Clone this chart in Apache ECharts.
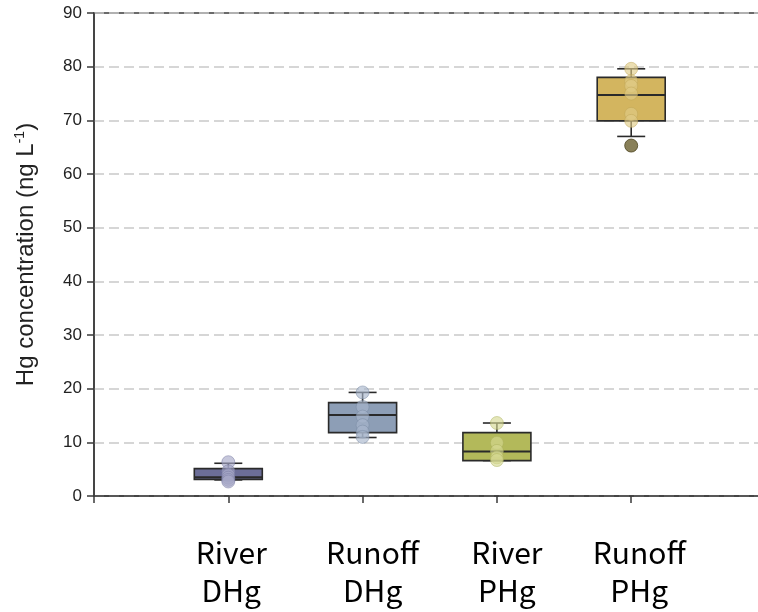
<!DOCTYPE html>
<html>
<head>
<meta charset="utf-8">
<script src="https://cdn.jsdelivr.net/npm/echarts@6/dist/echarts.min.js"></script>
<style>
  html, body { margin: 0; padding: 0; background: #fff; }
  #chart { width: 758px; height: 612px; }
</style>
</head>
<body>
<div id="chart"></div>
<script>
// Groups shown along the x axis (blank slots pad both ends of the axis)
const categories = ['', 'River\nDHg', 'Runoff\nDHg', 'River\nPHg', 'Runoff\nPHg', ''];

// Box summaries per group: [min whisker, Q1, median, Q3, max whisker] (ng L-1)
const riverDHgBox  = [3.0, 3.1, 3.5, 5.1, 6.1];
const runoffDHgBox = [10.9, 11.8, 15.1, 17.4, 19.3];
const riverPHgBox  = [6.6, 6.6, 8.3, 11.8, 13.6];
const runoffPHgBox = [67.0, 69.9, 74.7, 78.0, 79.6];

// Individual observations overlaid on each box (ng L-1)
const riverDHgPts  = [6.3, 4.6, 3.9, 3.4, 3.0, 2.7];
const runoffDHgPts = [19.3, 16.6, 14.8, 13.2, 12.0, 11.0];
const riverPHgPts  = [13.6, 9.9, 8.4, 7.2, 6.7];
const runoffPHgPts = [79.6, 77.3, 76.4, 75.0, 71.2, 69.9];
// Outlier below the lower whisker of Runoff PHg
const runoffPHgOutliers = [65.3];

// Y axis ticks
const yTicks = [0, 10, 20, 30, 40, 50, 60, 70, 80, 90];

// ---- styling ----
const boxFills  = ['#6c6e98', '#8d9eb6', '#b3b95a', '#d3b55f'];
const dotFills  = ['rgba(166,168,198,0.8)', 'rgba(168,182,204,0.8)', 'rgba(212,216,146,0.8)', 'rgba(224,204,134,0.8)'];
const dotEdges  = ['rgba(120,122,160,0.6)', 'rgba(120,136,160,0.6)', 'rgba(170,176,90,0.6)', 'rgba(190,165,85,0.6)'];
const labelShift = [0, 6, 20, 20, 16, 0]; // left padding nudging each label

const boxes = [riverDHgBox, runoffDHgBox, riverPHgBox, runoffPHgBox];
const points = [riverDHgPts, runoffDHgPts, riverPHgPts, runoffPHgPts];

const boxData = boxes.map((b, i) => [i + 1].concat(b));
const BOX_W = 68, CAP_W = 28;
const INK = '#2a2a2a';

function renderBox(params, api) {
  const x = api.value(0);
  const pMin = api.coord([x, api.value(1)]);
  const pQ1 = api.coord([x, api.value(2)]);
  const pMed = api.coord([x, api.value(3)]);
  const pQ3 = api.coord([x, api.value(4)]);
  const pMax = api.coord([x, api.value(5)]);
  const cx = pMed[0];
  const lineStyle = { stroke: INK, lineWidth: 1.6 };
  return {
    type: 'group',
    children: [
      { type: 'line', shape: { x1: cx, y1: pQ3[1], x2: cx, y2: pMax[1] }, style: lineStyle },
      { type: 'line', shape: { x1: cx, y1: pQ1[1], x2: cx, y2: pMin[1] }, style: lineStyle },
      { type: 'line', shape: { x1: cx - CAP_W / 2, y1: pMax[1], x2: cx + CAP_W / 2, y2: pMax[1] }, style: lineStyle },
      { type: 'line', shape: { x1: cx - CAP_W / 2, y1: pMin[1], x2: cx + CAP_W / 2, y2: pMin[1] }, style: lineStyle },
      { type: 'rect', shape: { x: cx - BOX_W / 2, y: pQ3[1], width: BOX_W, height: pQ1[1] - pQ3[1] },
        style: { fill: boxFills[params.dataIndex], stroke: INK, lineWidth: 1.6 } },
      { type: 'line', shape: { x1: cx - BOX_W / 2, y1: pMed[1], x2: cx + BOX_W / 2, y2: pMed[1] },
        style: { stroke: INK, lineWidth: 2 } }
    ]
  };
}

const scatterSeries = points.map((arr, i) => ({
  type: 'scatter',
  data: arr.map(v => [i + 1, v]),
  symbol: 'circle',
  symbolSize: 13,
  itemStyle: { color: dotFills[i], borderColor: dotEdges[i], borderWidth: 1 },
  z: 5
}));

const richStyles = {};
labelShift.forEach((p, i) => {
  richStyles['c' + i] = {
    fontFamily: '"Noto Sans CJK SC", "Noto Sans", sans-serif',
    fontSize: 30, lineHeight: 38, color: '#000', padding: [0, 0, 0, p]
  };
});

const chart = echarts.init(document.getElementById('chart'), null, { renderer: 'canvas' });
chart.setOption({
  animation: false,
  backgroundColor: '#fff',
  grid: {
    left: 94, top: 13, right: -7.5, bottom: 116,
    outerBoundsMode: 'none', containLabel: false,
    show: true, borderColor: '#3a3a3a', borderWidth: 1.5, backgroundColor: 'transparent'
  },
  xAxis: {
    type: 'category',
    data: categories,
    boundaryGap: false,
    axisLine: { lineStyle: { color: '#3a3a3a', width: 1.5 } },
    axisTick: { show: true, length: 7, interval: 0, lineStyle: { color: '#3a3a3a', width: 1.5 } },
    axisLabel: {
      interval: 0, margin: 38,
      formatter: (v, i) => v.split('\n').map(s => '{c' + i + '|' + s + '}').join('\n'),
      rich: richStyles
    },
    splitLine: { show: false }
  },
  yAxis: {
    type: 'value',
    min: yTicks[0], max: yTicks[yTicks.length - 1], interval: 10,
    name: '{t|Hg concentration (ng L}{s|-1}{t|)}',
    nameLocation: 'middle', nameGap: 55, nameRotate: 90,
    nameTextStyle: {
      rich: {
        t: { fontFamily: '"Liberation Sans", Arial, sans-serif', fontSize: 24, color: '#222' },
        s: { fontFamily: '"Liberation Sans", Arial, sans-serif', fontSize: 14, color: '#222', padding: [0, 0, 12, 0] }
      }
    },
    axisLine: { show: true, lineStyle: { color: '#3a3a3a', width: 1.5 } },
    axisTick: { show: true, length: 7, lineStyle: { color: '#3a3a3a', width: 1.5 } },
    axisLabel: { margin: 12, fontFamily: '"Liberation Sans", Arial, sans-serif', fontSize: 17, color: '#222' },
    splitLine: { show: true, lineStyle: { color: '#c9c9c9', width: 1.5, type: [10, 5] } }
  },
  series: [
    { type: 'custom', renderItem: renderBox, data: boxData, z: 3 },
    ...scatterSeries,
    {
      type: 'scatter',
      data: runoffPHgOutliers.map(v => [4, v]),
      symbol: 'circle', symbolSize: 13,
      itemStyle: { color: '#6b6030', borderColor: '#4e4622', borderWidth: 1 },
      z: 6
    }
  ]
});
</script>
</body>
</html>
